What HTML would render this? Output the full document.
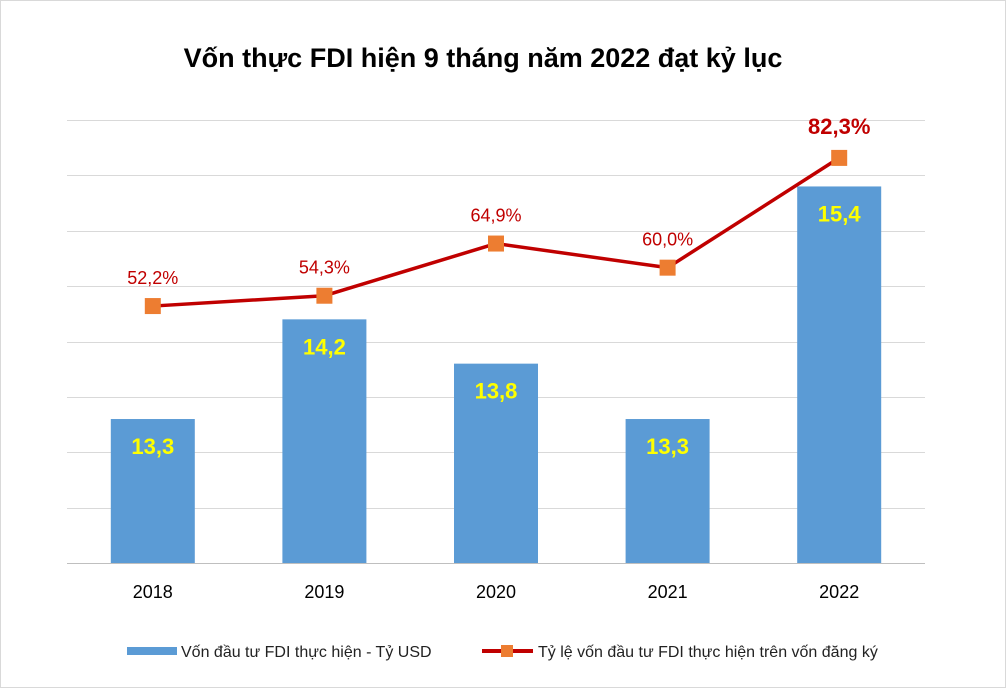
<!DOCTYPE html>
<html><head><meta charset="utf-8"><style>
html,body{margin:0;padding:0;background:#fff}
svg{display:block;font-family:"Liberation Sans",Arial,sans-serif}
</style></head><body>
<svg id="chart" width="1007" height="697" viewBox="0 0 1007 697">
<rect x="0.5" y="0.5" width="1005" height="687" fill="#fff" stroke="#d9d9d9"/>
<text x="483" y="67" text-anchor="middle" font-size="27" font-weight="bold" fill="#000">Vốn thực FDI hiện 9 tháng năm 2022 đạt kỷ lục</text>
<g id="grid"></g><g id="bars"></g><g id="line"></g><g id="xlabels"></g>
<g>
<rect x="127" y="647" width="50" height="8" fill="#5b9bd5"/>
<text x="181" y="657" font-size="16" fill="#222">Vốn đầu tư FDI thực hiện - Tỷ USD</text>
<line x1="482" y1="651" x2="533" y2="651" stroke="#c00000" stroke-width="4"/>
<rect x="501" y="645" width="12" height="12" fill="#ed7d31"/>
<text x="538" y="657" font-size="16" fill="#222">Tỷ lệ vốn đầu tư FDI thực hiện trên vốn đăng ký</text>
</g>
</svg>
<script>
const categories=["2018","2019","2020","2021","2022"];
const capital=[13.3,14.2,13.8,13.3,15.4];
const capitalLabels=["13,3","14,2","13,8","13,3","15,4"];
const ratio=[52.2,54.3,64.9,60.0,82.3];
const ratioLabels=["52,2%","54,3%","64,9%","60,0%","82,3%"];
const gridTicks=[12,12.5,13,13.5,14,14.5,15,15.5,16];
const NS="http://www.w3.org/2000/svg";
const L=67,R=925,T=120,B=563;
const yMin=12,yMax=16,y2Max=90;
const yP=v=>B-(v-yMin)/(yMax-yMin)*(B-T);
const yS=v=>B-v/y2Max*(B-T);
const step=(R-L)/categories.length;
const xC=i=>L+step*(i+0.5);
function mk(tag,attrs,parent){const e=document.createElementNS(NS,tag);for(const k in attrs)e.setAttribute(k,attrs[k]);parent.appendChild(e);return e;}
const grid=document.getElementById('grid');
gridTicks.forEach(t=>{const y=Math.round(yP(t))+0.5;const l=mk('line',{x1:L,x2:R,y1:y,y2:y,stroke:t===yMin?'#bfbfbf':'#d9d9d9','stroke-width':1},grid);

});
const bars=document.getElementById('bars');
capital.forEach((v,i)=>{const y=yP(v);const r=mk('rect',{x:xC(i)-42,y:y,width:84,height:B-y,fill:'#5b9bd5'},bars);


const t=mk('text',{x:xC(i),y:y+35,'text-anchor':'middle','font-size':22,'font-weight':'bold',fill:'#ffff00'},bars);t.textContent=capitalLabels[i];

});
const line=document.getElementById('line');
const pts=ratio.map((v,i)=>xC(i)+','+yS(v)).join(' ');
const pl=mk('polyline',{points:pts,fill:'none',stroke:'#c00000','stroke-width':3.5},line);


ratio.forEach((v,i)=>{const m=mk('rect',{x:xC(i)-8,y:yS(v)-8,width:16,height:16,fill:'#ed7d31'},line);


const last=i===ratio.length-1;
const t=mk('text',{x:xC(i),y:yS(v)-(last?24:22),'text-anchor':'middle','font-size':last?22:18,'font-weight':last?'bold':'normal',fill:'#c00000'},line);t.textContent=ratioLabels[i];

});
const xl=document.getElementById('xlabels');
categories.forEach((c,i)=>{const t=mk('text',{x:xC(i),y:598,'text-anchor':'middle','font-size':18,fill:'#000'},xl);t.textContent=c;

});
</script>
</body></html>
